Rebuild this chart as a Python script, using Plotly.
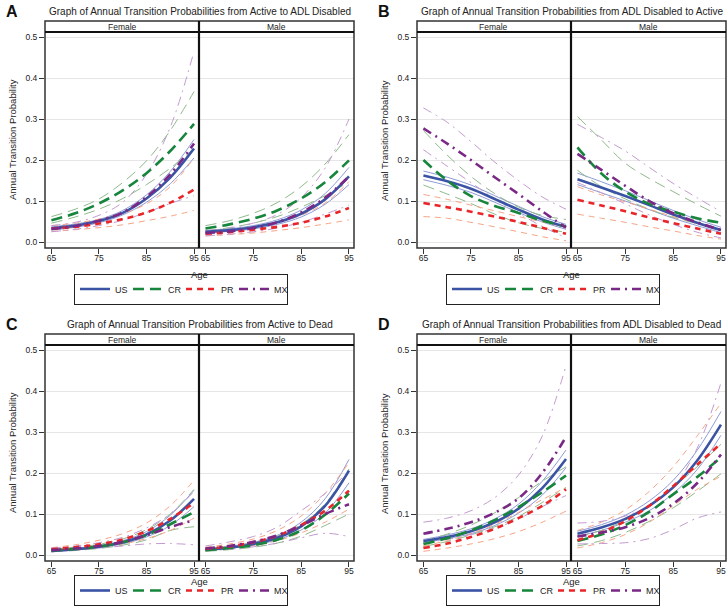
import plotly.graph_objects as go

W, H = 727, 607

AGES = [65, 70, 75, 80, 85, 90, 95]
SERIES = ["US", "CR", "PR", "MX"]
SEXES = ["Female", "Male"]
Y_TICKS = [0.0, 0.1, 0.2, 0.3, 0.4, 0.5]
X_TICKS = [65, 75, 85, 95]

TITLES = [
    "Graph of Annual Transition Probabilities from Active to ADL Disabled",
    "Graph of Annual Transition Probabilities from ADL Disabled to Active",
    "Graph of Annual Transition Probabilities from Active to Dead",
    "Graph of Annual Transition Probabilities from ADL Disabled to Dead",
]
LETTERS = ["A", "B", "C", "D"]

# each series: (estimate, lower, upper) at AGES
A_FEMALE = {
    "US": ([.033, .040, .051, .071, .106, .157, .228],
           [.029, .036, .047, .066, .097, .142, .205],
           [.037, .044, .055, .077, .115, .172, .250]),
    "CR": ([.053, .070, .094, .126, .168, .222, .288],
           [.046, .061, .080, .106, .140, .180, .228],
           [.062, .080, .105, .145, .198, .272, .367]),
    "PR": ([.033, .037, .045, .056, .072, .096, .128],
           [.026, .030, .035, .042, .052, .063, .077],
           [.040, .046, .056, .069, .093, .135, .205]),
    "MX": ([.032, .039, .052, .072, .110, .165, .240],
           [.025, .031, .040, .053, .072, .094, .113],
           [.040, .048, .065, .097, .165, .280, .465]),
}
A_MALE = {
    "US": ([.025, .029, .036, .048, .069, .104, .160],
           [.022, .026, .032, .043, .061, .092, .140],
           [.028, .032, .040, .054, .078, .118, .182]),
    "CR": ([.033, .043, .057, .077, .106, .146, .199],
           [.027, .035, .046, .062, .085, .113, .147],
           [.040, .052, .070, .096, .135, .190, .262]),
    "PR": ([.020, .024, .030, .037, .047, .062, .083],
           [.015, .018, .022, .028, .035, .044, .054],
           [.026, .030, .037, .048, .065, .095, .147]),
    "MX": ([.022, .026, .034, .048, .072, .108, .160],
           [.015, .019, .025, .034, .048, .068, .090],
           [.028, .034, .046, .067, .108, .180, .300]),
}
B_FEMALE = {
    "US": ([.162, .148, .130, .105, .079, .055, .037],
           [.152, .138, .121, .097, .072, .049, .031],
           [.173, .158, .139, .113, .087, .062, .043]),
    "CR": ([.200, .150, .112, .088, .071, .052, .038],
           [.139, .117, .094, .068, .047, .033, .024],
           [.272, .212, .160, .118, .085, .065, .055]),
    "PR": ([.095, .085, .074, .062, .049, .035, .020],
           [.062, .058, .048, .037, .025, .013, .003],
           [.116, .104, .090, .076, .062, .049, .036]),
    "MX": ([.277, .240, .200, .158, .117, .075, .035],
           [.225, .185, .145, .105, .070, .038, .010],
           [.327, .292, .245, .195, .150, .110, .080]),
}
B_MALE = {
    "US": ([.153, .133, .112, .090, .067, .047, .029],
           [.140, .120, .100, .079, .058, .040, .023],
           [.168, .147, .125, .101, .077, .055, .036]),
    "CR": ([.231, .167, .123, .093, .074, .058, .047],
           [.175, .135, .105, .080, .060, .045, .030],
           [.306, .249, .192, .155, .123, .092, .063]),
    "PR": ([.103, .089, .075, .060, .046, .033, .020],
           [.068, .058, .048, .037, .027, .016, .007],
           [.135, .115, .098, .080, .062, .045, .030]),
    "MX": ([.215, .176, .137, .100, .070, .048, .029],
           [.145, .120, .093, .066, .043, .024, .010],
           [.287, .255, .222, .182, .143, .108, .074]),
}
C_FEMALE = {
    "US": ([.010, .014, .020, .031, .050, .084, .137],
           [.008, .012, .018, .027, .044, .072, .118],
           [.012, .016, .023, .035, .057, .097, .158]),
    "CR": ([.011, .015, .021, .031, .049, .075, .105],
           [.008, .011, .016, .024, .037, .060, .069],
           [.014, .019, .026, .039, .062, .100, .160]),
    "PR": ([.014, .019, .026, .038, .058, .088, .127],
           [.010, .014, .019, .027, .040, .060, .090],
           [.018, .025, .036, .052, .078, .120, .182]),
    "MX": ([.012, .016, .022, .032, .048, .068, .085],
           [.008, .012, .017, .022, .027, .028, .025],
           [.017, .022, .030, .043, .066, .100, .155]),
}
C_MALE = {
    "US": ([.013, .018, .027, .042, .070, .120, .206],
           [.011, .016, .024, .037, .061, .102, .176],
           [.015, .021, .031, .048, .080, .137, .233]),
    "CR": ([.012, .017, .024, .037, .060, .098, .150],
           [.009, .013, .019, .029, .046, .072, .100],
           [.015, .021, .030, .046, .075, .125, .210]),
    "PR": ([.015, .021, .031, .047, .073, .108, .157],
           [.011, .016, .023, .035, .054, .080, .112],
           [.019, .027, .039, .060, .095, .150, .225]),
    "MX": ([.016, .022, .032, .048, .072, .100, .124],
           [.010, .014, .020, .029, .042, .053, .045],
           [.022, .032, .045, .068, .108, .150, .205]),
}
D_FEMALE = {
    "US": ([.034, .044, .058, .080, .113, .163, .234],
           [.030, .040, .052, .072, .102, .146, .213],
           [.038, .049, .064, .088, .124, .180, .256]),
    "CR": ([.027, .041, .060, .085, .117, .153, .194],
           [.021, .033, .049, .069, .094, .128, .165],
           [.034, .051, .073, .103, .140, .180, .215]),
    "PR": ([.017, .028, .044, .064, .090, .120, .160],
           [.009, .017, .027, .040, .057, .080, .107],
           [.022, .035, .052, .075, .104, .135, .165]),
    "MX": ([.052, .064, .080, .103, .138, .200, .288],
           [.030, .038, .050, .065, .088, .118, .145],
           [.080, .090, .108, .140, .195, .290, .462]),
}
D_MALE = {
    "US": ([.052, .067, .088, .120, .165, .230, .318],
           [.046, .060, .080, .108, .150, .208, .292],
           [.058, .074, .097, .132, .182, .255, .350]),
    "CR": ([.034, .050, .073, .105, .148, .190, .238],
           [.022, .035, .055, .082, .115, .155, .198],
           [.045, .060, .085, .120, .165, .215, .270]),
    "PR": ([.036, .055, .083, .120, .168, .220, .272],
           [.017, .030, .050, .080, .120, .160, .192],
           [.060, .080, .110, .155, .215, .290, .370]),
    "MX": ([.045, .055, .068, .090, .125, .175, .245],
           [.027, .028, .030, .040, .062, .090, .105],
           [.078, .082, .095, .120, .165, .260, .420]),
}

PANELS = [(A_FEMALE, A_MALE), (B_FEMALE, B_MALE), (C_FEMALE, C_MALE), (D_FEMALE, D_MALE)]

MAIN_COLOR = {"US": "#3b53a4", "CR": "#17853b", "PR": "#e8262a", "MX": "#7a2886"}
BAND_COLOR = {"US": "#8f9bd6", "CR": "#90b98c", "PR": "#f6a585", "MX": "#c39bd0"}
DASH = {"US": "solid", "CR": "11px,6px", "PR": "6px,5px", "MX": "9px,5px,2px,5px"}

FONT = "Liberation Sans, Arial, sans-serif"


def px(x):
    return x / W


def py(y):
    return 1 - y / H


fig = go.Figure()
layout = {}
shapes = []
annotations = []

for k, (fem, mal) in enumerate(PANELS):
    ox = 0 if k % 2 == 0 else 372
    oy = 0 if k < 2 else 313
    left, div, right = 45 + ox, 199 + ox, 354 + ox
    s_top, s_bot, bottom = 21 + oy, 32 + oy, 248 + oy
    leg = "legend" if k == 0 else f"legend{k + 1}"

    for f, data in enumerate((fem, mal)):
        n = k * 2 + f + 1
        xa = "x" if n == 1 else f"x{n}"
        ya = "y" if n == 1 else f"y{n}"
        dom = [px(left), px(div)] if f == 0 else [px(div), px(right)]
        layout["xaxis" if n == 1 else f"xaxis{n}"] = dict(
            domain=dom, anchor=ya, range=[63.65, 96.05], tickvals=X_TICKS,
            ticks="outside", ticklen=5, tickcolor="#333", showgrid=False,
            zeroline=False, showline=False, ticklabelstandoff=-3,
            tickfont=dict(size=8.5, color="#222"),
        )
        layout["yaxis" if n == 1 else f"yaxis{n}"] = dict(
            domain=[py(bottom), py(s_bot)], anchor=xa, range=[-0.0146, 0.5122],
            tickvals=Y_TICKS, ticktext=[f"{v:.1f}" for v in Y_TICKS],
            ticks="outside" if f == 0 else "", ticklen=5, tickcolor="#333",
            showticklabels=(f == 0), showgrid=True, gridcolor="#e6e6e6",
            gridwidth=1, zeroline=False, showline=False,
            tickfont=dict(size=8.5, color="#222"),
        )
        # confidence limits first
        for s in SERIES:
            mid, lo, hi = data[s]
            for band in (lo, hi):
                fig.add_trace(go.Scatter(
                    x=AGES, y=band, mode="lines", xaxis=xa, yaxis=ya,
                    line=dict(color=BAND_COLOR[s], width=1, dash=DASH[s], shape="spline"),
                    showlegend=False, hoverinfo="skip",
                ))
        for s in SERIES:
            mid, lo, hi = data[s]
            fig.add_trace(go.Scatter(
                x=AGES, y=mid, mode="lines", xaxis=xa, yaxis=ya, name=s,
                line=dict(color=MAIN_COLOR[s], width=2.6, dash=DASH[s], shape="spline"),
                showlegend=(f == 0), legend=leg,
            ))
        annotations.append(dict(
            text=SEXES[f], x=px((left + div) / 2 if f == 0 else (div + right) / 2),
            y=py((s_top + s_bot) / 2),
            font=dict(size=8.5, color="#222", family=FONT),
        ))

    # frame, strip line, facet divider
    shapes.append(dict(type="rect", xref="paper", yref="paper",
                       x0=px(left), x1=px(right), y0=py(bottom), y1=py(s_top),
                       line=dict(color="#333", width=1.5)))
    shapes.append(dict(type="line", xref="paper", yref="paper",
                       x0=px(left), x1=px(right), y0=py(s_bot), y1=py(s_bot),
                       line=dict(color="#111", width=2)))
    shapes.append(dict(type="line", xref="paper", yref="paper",
                       x0=px(div), x1=px(div), y0=py(bottom), y1=py(s_top),
                       line=dict(color="#111", width=2.2)))

    annotations += [
        dict(text=TITLES[k], x=px((left + right) / 2), y=py(11 + oy),
             font=dict(size=10, color="#222", family=FONT)),
        dict(text=f"<b>{LETTERS[k]}</b>", x=px(12 + ox), y=py(11 + oy),
             font=dict(size=16, color="#111", family=FONT)),
        dict(text="Annual Transition Probability", x=px(12 + ox),
             y=py((s_bot + bottom) / 2), textangle=-90,
             font=dict(size=9.5, color="#222", family=FONT)),
        dict(text="Age", x=px((left + right) / 2), y=py(274 + oy if k < 2 else 581),
             font=dict(size=9.5, color="#222", family=FONT)),
    ]

    layout[leg] = dict(
        orientation="h", x=px(181 + ox),
        y=py(289 + oy) if k < 2 else py(606),
        xanchor="center", yanchor="middle" if k < 2 else "bottom",
        bordercolor="#222", borderwidth=1, bgcolor="white",
        font=dict(size=9, color="#222", family=FONT), itemwidth=30,
        entrywidth=8, entrywidthmode="pixels", tracegroupgap=0,
    )

for a in annotations:
    a.update(xref="paper", yref="paper", showarrow=False,
             xanchor="center", yanchor="middle")

fig.update_layout(
    **layout,
    width=W, height=H,
    margin=dict(l=0, r=0, t=0, b=0),
    paper_bgcolor="white", plot_bgcolor="white",
    font=dict(family=FONT, color="#222"),
    shapes=shapes, annotations=annotations,
)

fig.write_html("out.html", config={"displayModeBar": False},
               post_script="document.body.style.margin='0px';")
